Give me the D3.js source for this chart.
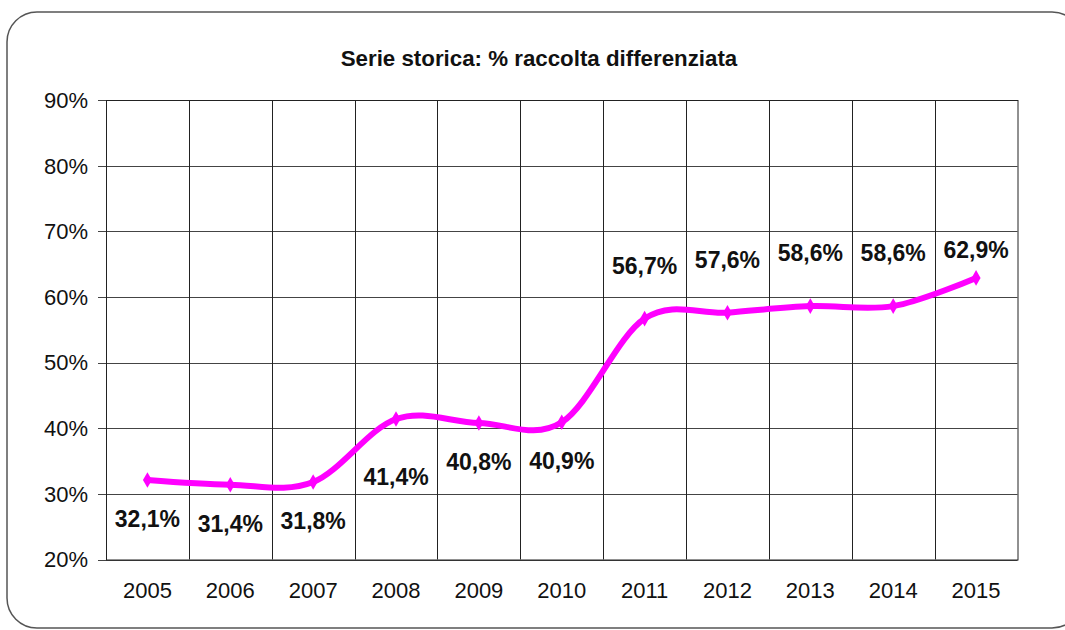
<!DOCTYPE html>
<html>
<head>
<meta charset="utf-8">
<script src="https://cdn.jsdelivr.net/npm/d3@7"></script>
<style>
  body { margin: 0; background: #fff; }
  svg { display: block; font-family: "Liberation Sans", Arial, sans-serif; }
</style>
</head>
<body>
<div id="chart"></div>
<script>
const years = ["2005", "2006", "2007", "2008", "2009", "2010", "2011", "2012", "2013", "2014", "2015"];
const values = [32.1, 31.4, 31.8, 41.4, 40.8, 40.9, 56.7, 57.6, 58.6, 58.6, 62.9];
const yTicks = [20, 30, 40, 50, 60, 70, 80, 90];
const title = "Serie storica: % raccolta differenziata";

(() => {
  const width = 1065, height = 630;
  const margin = { top: 100, right: 47.5, bottom: 70.5, left: 106 };

  const svg = d3.select("#chart").append("svg")
    .attr("width", width)
    .attr("height", height);

  // rounded frame around the whole chart (cut by the right edge)
  svg.append("rect")
    .attr("x", 7).attr("y", 12)
    .attr("width", 1075).attr("height", 616)
    .attr("rx", 30).attr("ry", 30)
    .attr("fill", "none")
    .attr("stroke", "#555")
    .attr("stroke-width", 1.5);

  svg.append("text")
    .attr("x", 539).attr("y", 66)
    .attr("text-anchor", "middle")
    .attr("font-weight", "bold")
    .attr("font-size", 22.3)
    .attr("fill", "#111")
    .text(title);

  const x = d3.scaleBand()
    .domain(years)
    .range([margin.left, width - margin.right]);

  const y = d3.scaleLinear()
    .domain([20, 90])
    .range([height - margin.bottom, margin.top]);

  // horizontal grid
  svg.append("g")
    .selectAll("line")
    .data(yTicks)
    .join("line")
    .attr("x1", margin.left - 8)
    .attr("x2", width - margin.right)
    .attr("y1", d => Math.round(y(d)) + 0.5)
    .attr("y2", d => Math.round(y(d)) + 0.5)
    .attr("stroke", "#444")
    .attr("stroke-width", 1);

  // vertical grid at category boundaries
  svg.append("g")
    .selectAll("line")
    .data(years.slice(1))
    .join("line")
    .attr("x1", d => Math.round(x(d)) + 0.5)
    .attr("x2", d => Math.round(x(d)) + 0.5)
    .attr("y1", margin.top)
    .attr("y2", height - margin.bottom)
    .attr("stroke", "#222")
    .attr("stroke-width", 1);

  // plot border
  svg.append("rect")
    .attr("x", margin.left + 0.5)
    .attr("y", margin.top + 0.5)
    .attr("width", width - margin.right - margin.left)
    .attr("height", height - margin.bottom - margin.top)
    .attr("fill", "none")
    .attr("stroke", "#222");

  // y labels
  svg.append("g")
    .selectAll("text")
    .data(yTicks)
    .join("text")
    .attr("x", 88)
    .attr("y", d => y(d))
    .attr("dy", "0.36em")
    .attr("text-anchor", "end")
    .attr("font-size", 22)
    .attr("fill", "#111")
    .text(d => d + "%");

  // x labels
  svg.append("g")
    .selectAll("text")
    .data(years)
    .join("text")
    .attr("x", d => x(d) + x.bandwidth() / 2)
    .attr("y", 598)
    .attr("text-anchor", "middle")
    .attr("font-size", 22)
    .attr("fill", "#111")
    .text(d => d);

  const pts = years.map((yr, i) => [x(yr) + x.bandwidth() / 2, y(values[i])]);

  const line = d3.line().curve(d3.curveCardinal.tension(0));

  svg.append("path")
    .attr("d", line(pts))
    .attr("fill", "none")
    .attr("stroke", "#ff00ff")
    .attr("stroke-width", 6)
    .attr("stroke-linecap", "round")
    .attr("stroke-linejoin", "round");

  svg.append("g")
    .selectAll("path")
    .data(pts)
    .join("path")
    .attr("transform", d => `translate(${d[0]},${d[1]})`)
    .attr("d", d3.symbol(d3.symbolDiamond, 70))
    .attr("fill", "#ff00ff");

  // data labels: below the line before 2011, above from 2011 on
  const labelDy = i => i === 3 ? 66 : i === 10 ? -20 : i < 6 ? 47 : -45;
  const fmt = v => d3.format(".1f")(v).replace(".", ",") + "%";

  svg.append("g")
    .selectAll("text")
    .data(values)
    .join("text")
    .attr("x", (d, i) => pts[i][0])
    .attr("y", (d, i) => pts[i][1] + labelDy(i))
    .attr("text-anchor", "middle")
    .attr("font-size", 23)
    .attr("font-weight", "bold")
    .attr("fill", "#111")
    .text(fmt);
})();
</script>
</body>
</html>
